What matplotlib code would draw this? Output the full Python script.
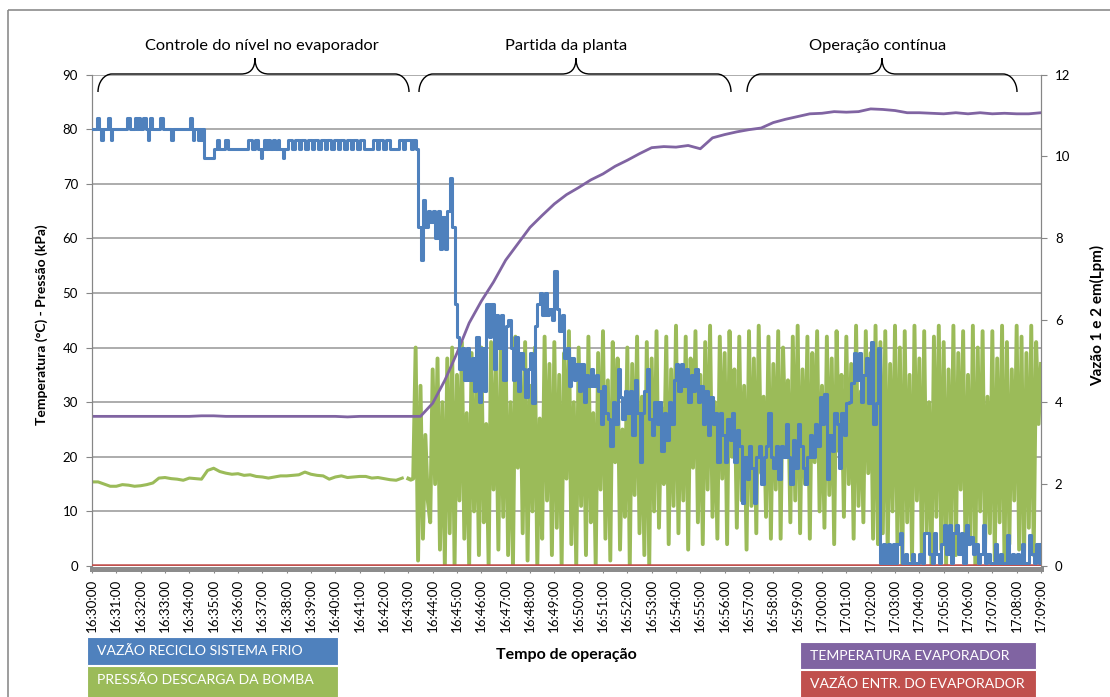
import numpy as np
import matplotlib.pyplot as plt
import matplotlib.transforms as mtransforms
from matplotlib.path import Path
from matplotlib.patches import PathPatch, Rectangle

plt.rcParams['font.family'] = ['Lato', 'DejaVu Sans']

W, H = 1110, 697

BLUE = "#4F81BD"
GREEN = "#9BBB59"
PURPLE = "#8064A2"
RED = "#C0504D"
GRID = "#a6a6a6"
AXIS = "#868686"

time_labels = [
    "16:30:00", "16:31:00", "16:32:00", "16:33:00", "16:34:00", "16:35:00",
    "16:36:00", "16:37:00", "16:38:00", "16:39:00", "16:40:00", "16:41:00",
    "16:42:00", "16:43:00", "16:44:00", "16:45:00", "16:46:00", "16:47:00",
    "16:48:00", "16:49:00", "16:50:00", "16:51:00", "16:52:00", "16:53:00",
    "16:54:00", "16:55:00", "16:56:00", "16:57:00", "16:58:00", "16:59:00",
    "17:00:00", "17:01:00", "17:02:00", "17:03:00", "17:04:00", "17:05:00",
    "17:06:00", "17:07:00", "17:08:00", "17:09:00",
]

# Pressão descarga da bomba (kPa), one reading every 15 s from 16:30:00
green_flat = [
    15.4, 15.4, 15.0, 14.6, 14.6, 14.9, 14.8, 14.6, 14.7, 14.9, 15.2, 16.1,
    16.2, 16.0, 15.9, 15.7, 16.1, 16.0, 15.9, 17.5, 17.9, 17.3, 17.0, 16.8,
    16.9, 16.6, 16.7, 16.4, 16.3, 16.1, 16.3, 16.5, 16.5, 16.6, 16.7, 17.2,
    16.8, 16.6, 16.5, 15.9, 16.3, 16.5, 16.2, 16.3, 16.4, 16.4, 16.1, 16.2,
    16.0, 15.8, 15.7, 16.1,
]

# Pressão descarga da bomba (kPa), one reading every 6 s from 16:43:00
green_run = [
    16.0, 15.8, 16.0, 40, 1, 33, 5, 24, 12, 8,
    36, 15, 38, 3, 30, 0, 38, 6, 40, 0,
    35, 12, 41, 5, 28, 0, 39, 10, 33, 2,
    40, 8, 26, 0, 41, 14, 36, 3, 40, 9,
    39, 2, 30, 0, 42, 18, 38, 6, 41, 1,
    33, 10, 40, 0, 27, 5, 42, 12, 37, 2,
    41, 7, 35, 0, 39, 16, 43, 4, 30, 0,
    40, 11, 36, 2, 42, 8, 28, 0, 39, 14,
    43, 5, 34, 1, 41, 19, 38, 3, 25, 9,
    40, 0, 37, 13, 42, 6, 31, 2, 41, 0,
    38, 10, 43, 7, 29, 15, 42, 4, 36, 11,
    44, 6, 33, 12, 42, 3, 38, 18, 43, 8,
    35, 4, 41, 14, 44, 9, 30, 5, 42, 16,
    39, 4, 43, 20, 36, 7, 42, 12, 33, 3,
    43, 11, 38, 6, 44, 17, 31, 9, 42, 5,
    37, 14, 43, 5, 40, 22, 34, 8, 42, 12,
    44, 6, 36, 15, 42, 5, 39, 19, 43, 10,
    33, 7, 42, 13, 38, 4, 43, 21, 35, 9,
    42, 15, 37, 5, 44, 11, 32, 8, 43, 17,
    39, 5, 44, 4, 41, 6, 43, 2, 37, 10,
    44, 4, 40, 0, 43, 8, 35, 1, 44, 12,
    38, 2, 43, 6, 30, 0, 42, 9, 44, 3,
    41, 0, 36, 7, 44, 2, 39, 14, 43, 1,
    35, 5, 44, 0, 40, 10, 43, 3, 31, 6,
    43, 1, 38, 8, 44, 0, 41, 4, 36, 12,
    44, 3, 42, 0, 39, 7, 44, 2, 41, 26,
    37,
]

# Temperatura evaporador (°C), one reading every 30 s from 16:30:00
purple_temp = [
    27.4, 27.4, 27.4, 27.4, 27.4, 27.4, 27.4, 27.4, 27.4, 27.5,
    27.5, 27.4, 27.4, 27.4, 27.4, 27.4, 27.4, 27.4, 27.4, 27.4,
    27.4, 27.3, 27.4, 27.4, 27.4, 27.4, 27.4,
    27.4, 29.8, 34.0, 39.0, 44.5, 48.5, 52.0, 56.0, 59.0, 62.0,
    64.2, 66.3, 68.0, 69.3, 70.7, 71.8, 73.2, 74.3, 75.5, 76.6,
    76.8, 76.7, 77.0, 76.4, 78.4, 79.0, 79.5, 79.9, 80.2, 81.2,
    81.8, 82.3, 82.8, 82.9, 83.2, 83.1, 83.2, 83.7, 83.6, 83.4,
    83.0, 83.0, 82.9, 82.8, 83.0, 82.8, 83.0, 82.8, 82.9, 82.8,
    82.8, 83.0,
]

# Vazão reciclo sistema frio (Lpm) before the start-up: seconds after 16:30:00
blue_step_sec = [
    0, 13, 17, 22, 26, 39, 44, 46, 49, 86, 94, 106, 112, 114, 118,
    126, 132, 137, 140, 143, 148, 168, 175, 196, 199, 242, 246, 249, 252,
    261, 264, 268, 271, 276, 302, 307, 314, 328, 336, 384, 394, 402, 409,
    416, 420, 423, 428, 435, 440, 447, 452, 458, 462, 470, 474, 484, 494,
    500, 510, 516, 526, 532, 542, 548, 558, 564, 574, 580, 590, 596, 606,
    612, 622, 628, 638, 644, 654, 660, 670, 692, 702, 708, 718, 724, 734,
    756, 766, 772,
]
blue_step_lpm = [
    10.67, 10.93, 10.67, 10.40, 10.67, 10.93, 10.67, 10.40, 10.67, 10.93,
    10.67, 10.93, 10.67, 10.93, 10.67, 10.93, 10.67, 10.40, 10.67, 10.93,
    10.67, 10.93, 10.67, 10.40, 10.67, 10.93, 10.67, 10.40, 10.67, 10.40,
    10.67, 10.40, 10.67, 9.95, 10.19, 10.40, 10.19, 10.40, 10.19, 10.40,
    10.19, 10.40, 10.19, 9.95, 10.19, 10.40, 10.19, 10.40, 10.19, 10.40,
    10.19, 10.40, 10.19, 9.95, 10.19, 10.40, 10.19, 10.40, 10.19, 10.40,
    10.19, 10.40, 10.19, 10.40, 10.19, 10.40, 10.19, 10.40, 10.19, 10.40,
    10.19, 10.40, 10.19, 10.40, 10.19, 10.40, 10.19, 10.40, 10.19, 10.40,
    10.19, 10.40, 10.19, 10.40, 10.19, 10.40, 10.19, 10.40,
]

# Vazão reciclo sistema frio (Lpm), one reading every 6 s from 16:43:00
blue_run = [
    10.40, 10.19, 10.40, 10.19, 8.27, 7.47, 8.93, 8.27, 8.67, 8.40,
    8.67, 8.00, 8.67, 7.73, 8.53, 7.73, 8.67, 9.47, 8.27, 6.40,
    5.60, 4.80, 5.33, 4.53, 5.33, 4.53, 5.07, 4.27, 5.60, 4.00,
    5.33, 4.27, 6.40, 5.60, 6.40, 4.80, 6.13, 5.33, 6.13, 4.53,
    5.87, 6.00, 5.33, 4.53, 5.60, 4.27, 5.20, 4.80, 4.13, 4.80,
    5.20, 3.97, 5.87, 6.40, 6.67, 6.13, 6.67, 6.13, 6.27, 6.00,
    7.20, 6.27, 5.73, 6.13, 5.07, 5.33, 4.40, 5.07, 4.53, 4.93,
    4.27, 4.93, 4.00, 4.67, 4.40, 4.80, 4.40, 4.67, 4.27, 3.47,
    4.40, 3.73, 3.60, 2.93, 4.00, 3.47, 4.80, 4.13, 3.60, 4.27,
    3.73, 4.27, 3.20, 4.53, 3.73, 2.53, 3.73, 4.27, 4.80, 3.60,
    3.20, 4.00, 3.47, 4.00, 2.80, 3.73, 3.07, 4.00, 3.47, 4.53,
    4.93, 4.27, 4.93, 4.40, 4.80, 4.00, 4.67, 4.27, 4.80, 4.00,
    4.40, 3.47, 4.27, 3.20, 4.13, 3.47, 3.73, 2.53, 3.73, 3.20,
    2.53, 3.60, 3.07, 3.73, 2.53, 3.33, 2.93, 1.53, 2.67, 2.13,
    2.93, 2.40, 1.53, 2.67, 2.93, 2.00, 2.67, 2.93, 3.73, 2.67,
    2.40, 2.93, 2.13, 2.93, 2.67, 3.47, 2.67, 2.00, 3.07, 2.40,
    3.47, 2.93, 2.40, 2.00, 2.67, 3.20, 2.67, 3.47, 2.93, 4.13,
    3.47, 4.20, 2.13, 3.20, 2.80, 3.73, 3.47, 2.40, 3.73, 3.20,
    3.97, 4.00, 4.47, 5.20, 4.53, 5.20, 4.00, 4.67, 5.07, 3.97,
    5.47, 3.47, 3.97, 5.33, 0.07, 0.53, 0.07, 0.53, 0.07, 0.53,
    0.07, 0.53, 0.80, 0.07, 0.30, 0.07, 0.07, 0.30, 0.07, 0.07,
    0.30, 0.07, 0.80, 0.80, 0.30, 0.07, 0.80, 0.30, 0.07, 0.53,
    1.00, 0.30, 1.00, 0.07, 0.80, 1.00, 0.30, 0.80, 0.07, 1.00,
    0.53, 0.70, 0.30, 0.53, 0.07, 0.30, 1.00, 0.07, 0.30, 0.07,
    0.07, 0.53, 0.07, 0.30, 0.07, 0.07, 0.75, 0.07, 0.30, 0.07,
    0.30, 0.07, 0.53, 0.07, 0.07, 0.75, 0.30, 0.07, 0.53, 0.07,
    0.53,
]

# Vazão entr. do evaporador (Lpm)
red_t = [0, 39]
red_lpm = [0.03, 0.03]

phases = ["Controle do nível no evaporador", "Partida da planta", "Operação contínua"]
legend_left = ["VAZÃO RECICLO SISTEMA FRIO", "PRESSÃO DESCARGA DA BOMBA"]
legend_right = ["TEMPERATURA EVAPORADOR", "VAZÃO ENTR. DO EVAPORADOR"]

# time axis in minutes after 16:30:00
t_green_flat = np.arange(len(green_flat)) * 0.25
t_run = 13 + np.arange(len(green_run)) * 0.1
t_purple = np.arange(len(purple_temp)) * 0.5
t_blue = np.concatenate([np.array(blue_step_sec) / 60.0, 13 + np.arange(len(blue_run)) * 0.1])
v_blue = np.concatenate([blue_step_lpm, blue_run])

fig = plt.figure(figsize=(W / 100, H / 100), dpi=100)
fig.patch.set_facecolor("white")

x0, x1, y0, y1 = 92, 1041, 566, 74.5
ax = fig.add_axes([x0 / W, 1 - y0 / H, (x1 - x0) / W, (y0 - y1) / H])
ax2 = ax.twinx()

ax.plot(t_green_flat, green_flat, color=GREEN, lw=2.2, zorder=3)
ax.plot(t_run, green_run, color=GREEN, lw=2.8, zorder=3)
ax.plot(t_purple, purple_temp, color=PURPLE, lw=2.0, zorder=4)
ax2.plot(red_t, red_lpm, color=RED, lw=1.8, zorder=3)
ax2.plot(t_blue, v_blue, color=BLUE, lw=2.2, drawstyle="steps-post", zorder=4)

ax.set_xlim(0, 39)
ax.set_ylim(0, 90)
ax2.set_ylim(0, 12)

ax.set_yticks(np.arange(0, 91, 10))
ax2.set_yticks(np.arange(0, 13, 2))
ax.set_xticks(np.arange(len(time_labels)))
ax.set_xticklabels(time_labels)

ax.grid(axis="y", color=GRID, lw=1.3, zorder=0)
ax.set_axisbelow(True)

for a in (ax, ax2):
    a.spines["top"].set_visible(False)
    a.spines["left"].set_color(AXIS)
    a.spines["right"].set_color(AXIS)
    a.spines["bottom"].set_visible(False)
ax.spines["bottom"].set_visible(True)
ax.spines["bottom"].set_color("#8c8c8c")
ax.spines["bottom"].set_linewidth(3.6)
ax.spines["bottom"].set_position(("outward", 2))

ax.tick_params(axis="y", direction="out", length=4, width=0.8, color=AXIS, pad=6, labelsize=9.5)
ax2.tick_params(axis="y", direction="out", length=4, width=0.8, color=AXIS, pad=6, labelsize=9.5)
ax.tick_params(axis="x", direction="out", length=3, width=0.8, color=AXIS, pad=4,
               labelsize=9.6, labelrotation=90)

ax.set_ylabel("Temperatura (°C) - Pressão (kPa)", fontsize=10, fontweight="bold", labelpad=12)
ax2.set_ylabel("Vazão 1 e 2 em(Lpm)", fontsize=11, fontweight="bold", labelpad=12)
ax.yaxis.set_label_coords((48 - x0) / (x1 - x0), 0.49)
ax2.yaxis.set_label_coords((1090 - x0) / (x1 - x0), 0.51)
fig.text(566 / W, 1 - 655 / H, "Tempo de operação", ha="center", va="center",
         fontsize=11.5, fontweight="bold")

# pixel coordinates (y downwards) -> figure
px = mtransforms.Affine2D().scale(1 / W, -1 / H).translate(0, 1) + fig.transFigure


def brace(xa, xb, xm, y_line=74, y_end=92, y_tip=58, r=14):
    k = 0.552
    h = y_end - y_line
    verts = [
        (xa, y_end), (xa, y_end - k * h), (xa + r - k * r, y_line), (xa + r, y_line),
        (xm - 14, y_line),
        (xm - 5, y_line), (xm, y_line - 5), (xm, y_tip),
        (xm, y_line - 5), (xm + 5, y_line), (xm + 14, y_line),
        (xb - r, y_line),
        (xb - r + k * r, y_line), (xb, y_end - k * h), (xb, y_end),
    ]
    codes = [Path.MOVETO, Path.CURVE4, Path.CURVE4, Path.CURVE4, Path.LINETO,
             Path.CURVE4, Path.CURVE4, Path.CURVE4, Path.CURVE4, Path.CURVE4, Path.CURVE4,
             Path.LINETO, Path.CURVE4, Path.CURVE4, Path.CURVE4]
    fig.add_artist(PathPatch(Path(verts, codes), transform=px, fill=False,
                             edgecolor="black", lw=1.0))


brace(98, 409, 255)
brace(419, 731, 576)
brace(747, 1017, 882)
for label, cx in zip(phases, [262, 566, 878]):
    fig.text(cx / W, 1 - 46 / H, label, ha="center", va="center", fontsize=11.8)

# legend blocks under the time axis
boxes = [
    (87, 637, 251, 28, BLUE, legend_left[0]),
    (87, 666, 251, 40, GREEN, legend_left[1]),
    (800, 642, 236, 27, PURPLE, legend_right[0]),
    (800, 670, 236, 40, RED, legend_right[1]),
]
for bx, by, bw, bh, col, txt in boxes:
    fig.add_artist(Rectangle((bx, by), bw, bh, transform=px, facecolor=col,
                             edgecolor="white", lw=0.8, clip_on=False))
    fig.text((bx + 10) / W, 1 - (by + 14) / H, txt, color="white",
             ha="left", va="center", fontsize=10.1)

# chart frame
fig.add_artist(Rectangle((8, 10), 1115, 702, transform=px, fill=False,
                         edgecolor="#8c8c8c", lw=1.2, clip_on=False))

fig.savefig("out.png", dpi=100, facecolor="white")
